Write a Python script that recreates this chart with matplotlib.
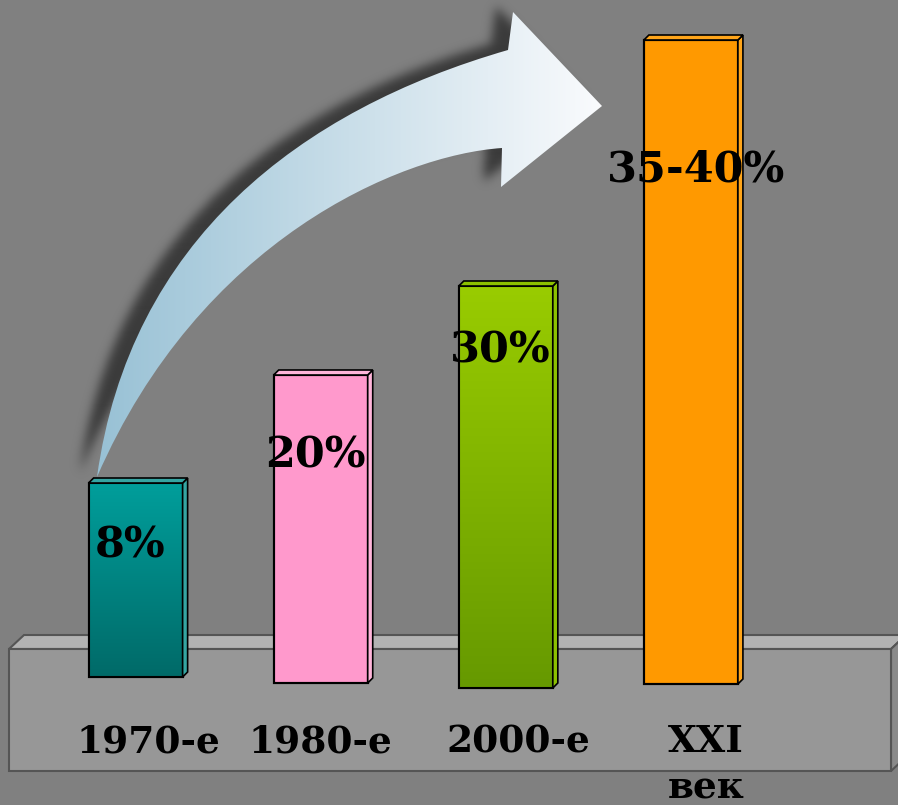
import numpy as np
import matplotlib
matplotlib.use('Agg')
import matplotlib.pyplot as plt
from matplotlib.path import Path
from matplotlib.patches import PathPatch, Polygon, Rectangle
from matplotlib.colors import to_rgb

categories = ['1970-е', '1980-е', '2000-е', 'XXI\nвек']
value_labels = ['8%', '20%', '30%', '35-40%']
# bar heights as drawn in the picture (they are not to scale with the labels)
bar_heights = [19.4, 30.8, 40.2, 64.4]
bar_bottoms = [0.6, 0.0, -0.5, -0.1]
top_colors = ['#009e9b', '#ff99cc', '#99cc00', '#ff9900']
bottom_colors = ['#006a68', '#ff99cc', '#669900', '#ff9900']
side_colors = ['#35a5a2', '#ffb5da', '#8cc000', '#ffa51a']

W, H = 898, 805
fig = plt.figure(figsize=(W / 100, H / 100), dpi=100, facecolor='#808080')

# ---- background layer, pixel units ----
bg = fig.add_axes([0, 0, 1, 1])
bg.axis('off')

# platform
bg.add_patch(Polygon([(9, 649), (24, 635), (906, 635), (891, 649)],
                     fc='#b3b3b3', ec='#555555', lw=1.5, zorder=1))
bg.add_patch(Polygon([(891, 649), (906, 635), (906, 757), (891, 771)],
                     fc='#8a8a8a', ec='#555555', lw=1.5, zorder=1))
bg.add_patch(Polygon([(9, 649), (891, 649), (891, 771), (9, 771)],
                     fc='#979797', ec='#555555', lw=1.5, zorder=1))

# curved arrow
verts = [(97, 477), (130, 240), (300, 110), (508, 50), (513, 12), (602, 106),
         (501, 187), (502, 148), (400, 155), (200, 240), (97, 477), (97, 477)]
codes = [Path.MOVETO, Path.CURVE4, Path.CURVE4, Path.CURVE4, Path.LINETO,
         Path.LINETO, Path.LINETO, Path.LINETO, Path.CURVE4, Path.CURVE4,
         Path.CURVE4, Path.CLOSEPOLY]
arrow_path = Path(verts, codes)

# blurred shadow, thrown to the upper left
shadow_path = Path(np.array(verts) + np.array([-17, -5]), codes)
yy, xx = np.mgrid[0:H, 0:W] + 0.5
inside = shadow_path.contains_points(np.c_[xx.ravel(), yy.ravel()]).reshape(H, W)
k = np.exp(-0.5 * (np.arange(-15, 16) / 5.0) ** 2)
k /= k.sum()
m = inside.astype(float)
m = np.apply_along_axis(lambda r: np.convolve(r, k, 'same'), 1, m)
m = np.apply_along_axis(lambda r: np.convolve(r, k, 'same'), 0, m)
shadow = np.zeros((H, W, 4))
shadow[..., :3] = 0.2
shadow[..., 3] = m * 0.9
bg.imshow(shadow, extent=(0, W, H, 0), aspect='auto', zorder=2)

arrow_patch = PathPatch(arrow_path, fc='none', ec='none', zorder=3)
bg.add_patch(arrow_patch)
c0, c1 = np.array(to_rgb('#98c1d5')), np.array(to_rgb('#fafbfd'))
t = np.linspace(0, 1, 256)[None, :, None]
grad = c0 + (c1 - c0) * t
im = bg.imshow(grad, extent=(97, 602, 477, 12), aspect='auto', zorder=3)
im.set_clip_path(arrow_patch)
bg.set_xlim(0, W)
bg.set_ylim(H, 0)

# ---- bar layer ----
ax = fig.add_axes([0, 0, 1, 1])
ax.patch.set_alpha(0)
ax.axis('off')

x = np.arange(len(categories))
width = 0.508
dx, dy = 5 / 185.1, 0.5

bars = ax.bar(x, bar_heights, width=width, bottom=bar_bottoms,
              color=top_colors, edgecolor='black', linewidth=1.5, zorder=3)

for i, b in enumerate(bars):
    x0, y0 = b.get_x(), b.get_y()
    x1, y1 = x0 + b.get_width(), y0 + b.get_height()
    if top_colors[i] != bottom_colors[i]:
        ca, cb = np.array(to_rgb(bottom_colors[i])), np.array(to_rgb(top_colors[i]))
        g = ca + (cb - ca) * np.linspace(0, 1, 256)[:, None, None]
        gi = ax.imshow(g, extent=(x0, x1, y0, y1), origin='lower',
                       aspect='auto', zorder=3.1)
        gi.set_clip_path(b)
    ax.add_patch(Rectangle((x0, y0), x1 - x0, y1 - y0, fill=False,
                           ec='black', lw=1.5, zorder=4))
    ax.add_patch(Polygon([(x1, y0), (x1 + dx, y0 + dy), (x1 + dx, y1 + dy), (x1, y1)],
                         fc=side_colors[i], ec='black', lw=1.2, zorder=4))
    ax.add_patch(Polygon([(x0, y1), (x0 + dx, y1 + dy), (x1 + dx, y1 + dy), (x1, y1)],
                         fc=side_colors[i], ec='black', lw=1.2, zorder=4))

ax.set_xlim(-0.7326, 4.1188)
ax.set_ylim(-12.2, 68.3)

# value labels
label_dx = [-0.03, -0.03, -0.03, 0.03]
label_drop = [6.2, 8.0, 6.4, 13.0]
for i, lab in enumerate(value_labels):
    top = bar_bottoms[i] + bar_heights[i]
    ax.text(x[i] + label_dx[i], top - label_drop[i], lab, ha='center', va='center',
            fontsize=31, fontweight='bold', family='DejaVu Serif', zorder=5)

# category labels on the platform
cat_dx = [0.07, 0.0, 0.07, 0.08]
for i, cat in enumerate(categories):
    for j, line in enumerate(cat.split('\n')):
        ax.text(x[i] + cat_dx[i], -6.9 - j * 4.6, line, ha='center', va='baseline',
                fontsize=27, fontweight='bold', family='DejaVu Serif', zorder=5)

fig.savefig('out.png', dpi=100, facecolor='#808080')
